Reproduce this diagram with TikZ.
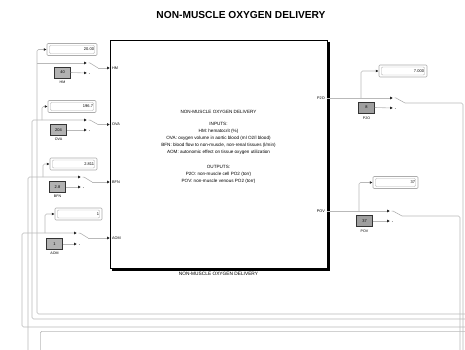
\documentclass[tikz,border=0pt]{standalone}
\usepackage{fontspec}
\setmainfont{Liberation Sans}
\usetikzlibrary{arrows.meta,shadows}
\begin{document}
\begin{tikzpicture}[x=1pt,y=-1pt,
  sig/.style={draw=gray!55, line width=0.6pt, rounded corners=1.5pt},
  arr/.style={sig, -{Latex[length=2.8pt,width=2.8pt,color=black!85]}},
  lever/.style={draw=gray!70, line width=0.5pt},
  disp/.style={draw=gray!65, line width=0.6pt, rounded corners=1pt, fill=white,
    minimum height=12pt, inner sep=0pt, align=right,
    font=\fontsize{4}{4}\selectfont,
    path picture={\draw[gray!60, line width=0.4pt]
      ([shift={(2.5pt,-2pt)}]path picture bounding box.north west) rectangle
      ([shift={(-2.5pt,2pt)}]path picture bounding box.south east);}},
  const/.style={draw=gray!40!black, fill=gray!60, line width=0.5pt,
    minimum width=16pt, minimum height=11pt, inner sep=0pt,
    font=\fontsize{4}{4}\selectfont,
    drop shadow={shadow xshift=0.8pt, shadow yshift=-0.8pt, fill=gray!75, opacity=1}},
  blab/.style={font=\fontsize{3.6}{4}\selectfont, inner sep=0pt},
  plab/.style={font=\fontsize{3.8}{4}\selectfont, inner sep=0pt},
  itxt/.style={font=\fontsize{4.6}{5}\selectfont, inner sep=0pt},
]
\useasboundingbox (0,0) rectangle (465,350);
\clip (0,0) rectangle (465,350);

% title
\node[font=\bfseries\fontsize{10.2}{11}\selectfont, inner sep=0pt] (title) at (241,15) {NON-MUSCLE OXYGEN DELIVERY};

% main subsystem
\node[draw=black, line width=0.8pt, fill=white, minimum width=217pt, minimum height=228pt, inner sep=0pt] (nm) at (218.5,154) {};
\draw[line width=2pt, black] ([xshift=1.2pt,yshift=-2pt]nm.north east) -- ([xshift=1.2pt,yshift=-1.2pt]nm.south east) -- ([xshift=2pt,yshift=-1.2pt]nm.south west);
\node[font=\fontsize{4.8}{5}\selectfont, inner sep=0pt] (nmname) at (218.5,274) {NON-MUSCLE OXYGEN DELIVERY};

\node[itxt] (t0) at (218.5,112) {NON-MUSCLE OXYGEN DELIVERY};
\node[itxt] (t1) at (218.5,124) {INPUTS:};
\node[itxt] (t2) at (218.5,131) {HM: hematocrit (\%)};
\node[itxt] (t3) at (218.5,138) {OVA: oxygen volume in aortic blood (ml O2/l blood)};
\node[itxt] (t4) at (218.5,145) {BFN: blood flow to non-muscle, non-renal tissues (l/min)};
\node[itxt] (t5) at (218.5,152) {AOM: autonomic effect on tissue oxygen utilization};
\node[itxt] (t6) at (218.5,167) {OUTPUTS:};
\node[itxt] (t7) at (218.5,174) {P2O: non-muscle cell PO2 (torr)};
\node[itxt] (t8) at (218.5,181) {POV: non-muscle venous PO2 (torr)};

% ports
\coordinate (pHM) at (110,68);
\coordinate (pOVA) at (110,124.5);
\coordinate (pBFN) at (110,182);
\coordinate (pAOM) at (110,238);
\coordinate (pP2O) at (327,98);
\coordinate (pPOV) at (327,211);
\node[plab, anchor=west] (lHM) at (112,68) {HM};
\node[plab, anchor=west] (lOVA) at (112,124.5) {OVA};
\node[plab, anchor=west] (lBFN) at (112,182) {BFN};
\node[plab, anchor=west] (lAOM) at (112,238) {AOM};
\node[plab, anchor=east] (lP2O) at (325,98) {P2O};
\node[plab, anchor=east] (lPOV) at (325,211) {POV};

% ---------- left inputs ----------
\node[disp, minimum width=50pt, text width=44pt] (dHM) at (72,49.5) {20.00};
\node[disp, minimum width=48pt, text width=42pt] (dOVA) at (72,106.5) {196.7};
\node[disp, minimum width=47pt, text width=41pt] (dBFN) at (73.5,164) {2.811};
\node[disp, minimum width=47pt, text width=41pt] (dAOM) at (78.5,214) {1};
\node[const] (cHM) at (62.5,72.5) {40};
\node[blab] (ncHM) at (62.5,82) {HM};
\node[const] (cOVA) at (58.5,130) {204};
\node[blab] (ncOVA) at (58.5,139.5) {OVA};
\node[const] (cBFN) at (57.5,187) {2.8};
\node[blab] (ncBFN) at (57.5,196.5) {BFN};
\node[const] (cAOM) at (54.5,244) {1};
\node[blab] (ncAOM) at (54.5,253.5) {AOM};

\coordinate (sHMa) at (87,63);   \coordinate (sHMb) at (87,73);   \coordinate (sHMo) at (98,68);
\coordinate (sOVAa) at (87,120); \coordinate (sOVAb) at (87,130); \coordinate (sOVAo) at (98,124.5);
\coordinate (sBFNa) at (81,177); \coordinate (sBFNb) at (81,187); \coordinate (sBFNo) at (92,182);
\coordinate (sAOMa) at (77,233); \coordinate (sAOMb) at (77,244); \coordinate (sAOMo) at (88,238);

\coordinate (srcHM) at (470,314);
\coordinate (srcOVA) at (470,319);
\coordinate (srcBFN) at (28,360);
\coordinate (srcAOM) at (470,327);
\coordinate (bHM) at (37,63);
\coordinate (bOVA) at (32,120);
\coordinate (bOVA2) at (42,120);
\coordinate (bBFN) at (28,177);
\coordinate (bBFN2) at (43,177);
\coordinate (bAOM) at (22,233);
\coordinate (bAOM2) at (45,233);

\draw[arr] (srcHM) -| (bHM) |- (dHM.west);
\draw[arr] (bHM) -- (sHMa);
\draw[arr] (cHM.east) -- (sHMb);

\draw[arr] (srcOVA) -| (bOVA) -- (sOVAa);
\draw[arr] (bOVA2) |- (dOVA.west);
\draw[arr] (cOVA.east) -- (sOVAb);

\draw[arr] (srcBFN) -- (bBFN) -- (sBFNa);
\draw[arr] (bBFN2) |- (dBFN.west);
\draw[arr] (cBFN.east) -- (sBFNb);

\draw[arr] (srcAOM) -| (bAOM) -- (sAOMa);
\draw[arr] (bAOM2) |- (dAOM.west);
\draw[arr] (cAOM.east) -- (sAOMb);

\foreach \s in {HM,OVA,BFN,AOM}{
  \draw[lever] ([xshift=1.5pt]s\s a) -- ([xshift=3pt]s\s a) -- (s\s o);
  \draw[lever] ([xshift=1.5pt]s\s b) -- ([xshift=3pt]s\s b);
}
\draw[arr] (sHMo) -- (pHM);
\draw[arr] (sOVAo) -- (pOVA);
\draw[arr] (sBFNo) -- (pBFN);
\draw[arr] (sAOMo) -- (pAOM);

% ---------- right outputs ----------
\node[disp, minimum width=48pt, text width=42pt] (dP2O) at (403,71) {7.000};
\node[disp, minimum width=45pt, text width=39pt] (dPOV) at (395.5,182.5) {37};
\node[const, fill=gray!75] (cP2O) at (366.5,107.5) {8};
\node[blab] (ncP2O) at (366.5,118) {P2O};
\node[const, fill=gray!75] (cPOV) at (364.5,221) {37};
\node[blab] (ncPOV) at (364.5,231.5) {POV};

\coordinate (sP2Oa) at (393,98);  \coordinate (sP2Ob) at (393,108); \coordinate (sP2Oo) at (405,103);
\coordinate (sPOVa) at (390,211); \coordinate (sPOVb) at (390,221); \coordinate (sPOVo) at (402,216);
\coordinate (bP2O) at (361,98);
\coordinate (bPOV) at (359,211);
\coordinate (oP2O) at (463,360);
\coordinate (oPOV) at (460,360);

\draw[arr] (pP2O) -- (sP2Oa);
\draw[arr] (bP2O) |- (dP2O.west);
\draw[arr] (cP2O.east) -- (sP2Ob);
\draw[arr] (pPOV) -- (sPOVa);
\draw[arr] (bPOV) |- (dPOV.west);
\draw[arr] (cPOV.east) -- (sPOVb);
\foreach \s in {P2O,POV}{
  \draw[lever] ([xshift=1.5pt]s\s a) -- ([xshift=3pt]s\s a) -- (s\s o);
  \draw[lever] ([xshift=1.5pt]s\s b) -- ([xshift=3pt]s\s b);
}
\draw[sig] (sP2Oo) -| (oP2O);
\draw[sig] (sPOVo) -| (oPOV);

% block below (partly visible)
\node[draw=gray!55, line width=0.6pt, rounded corners=1.5pt, minimum width=440pt, minimum height=60pt,
  anchor=north west, inner sep=0pt] (lowblk) at (40,331) {};
\end{tikzpicture}
\end{document}
